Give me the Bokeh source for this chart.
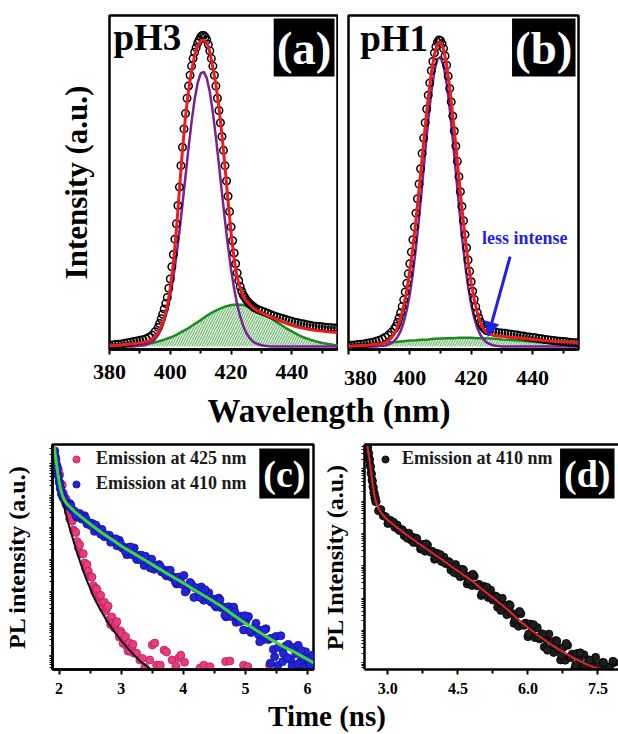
from bokeh.plotting import figure
from bokeh.layouts import column, row
from bokeh.models import (Range1d, FixedTicker, PrintfTickFormatter, Label, Arrow,
                          NormalHead, LinearAxis, Legend, LegendItem)
from bokeh.embed import file_html
from bokeh.resources import INLINE

# ---------------------------------------------------------------- data
wavelength_fit = [380, 381, 382, 383, 384, 385, 386, 387, 388, 389, 390, 391, 392, 393, 394, 395,
                  396, 397, 398, 399, 400, 401, 402, 403, 404, 405, 406, 407, 408, 409, 410, 411,
                  412, 413, 414, 415, 416, 417, 418, 419, 420, 421, 422, 423, 424, 425, 426, 427,
                  428, 429, 430, 431, 432, 433, 434, 435, 436, 437, 438, 439, 440, 441, 442, 443,
                  444, 445, 446, 447, 448, 449, 450, 451, 452, 453, 454, 455]
wavelength_green = [380, 382, 384, 386, 388, 390, 392, 394, 396, 398, 400, 402, 404, 406, 408, 410,
                    412, 414, 416, 418, 420, 422, 424, 426, 428, 430, 432, 434, 436, 438, 440, 442,
                    444, 446, 448, 450, 452, 454, 456]
wavelength_ticks = [380, 400, 420, 440]
wavelength_minor = [390, 410, 430, 450]

# pH3 (panel a)
pH3_fit = [0.002, 0.003, 0.003, 0.004, 0.005, 0.006, 0.007, 0.008, 0.009, 0.010, 0.011, 0.013,
           0.015, 0.018, 0.024, 0.033, 0.045, 0.065, 0.090, 0.130, 0.190, 0.270, 0.380, 0.510,
           0.640, 0.750, 0.835, 0.900, 0.950, 0.980, 0.997, 1.000, 0.990, 0.960, 0.910, 0.855,
           0.780, 0.690, 0.585, 0.475, 0.370, 0.285, 0.225, 0.190, 0.165, 0.148, 0.138, 0.128,
           0.120, 0.115, 0.110, 0.105, 0.100, 0.096, 0.092, 0.088, 0.084, 0.080, 0.076, 0.072,
           0.069, 0.066, 0.063, 0.061, 0.059, 0.057, 0.055, 0.054, 0.052, 0.051, 0.050, 0.049,
           0.048, 0.047, 0.046, 0.045]
pH3_peak1 = [0, 0, 0, 0, 0, 0, 0, 0, 0, 0.001, 0.002, 0.003, 0.005, 0.009, 0.015, 0.024,
             0.037, 0.057, 0.084, 0.120, 0.167, 0.225, 0.295, 0.375, 0.464, 0.556, 0.648, 0.733,
             0.806, 0.860, 0.891, 0.896, 0.875, 0.830, 0.764, 0.683, 0.593, 0.500, 0.410, 0.326,
             0.251, 0.188, 0.137, 0.097, 0.067, 0.044, 0.029, 0.018, 0.011, 0.007, 0.004, 0.002,
             0.001, 0, 0, 0, 0, 0, 0, 0, 0, 0, 0, 0, 0, 0, 0, 0, 0, 0, 0, 0, 0, 0, 0, 0]
pH3_peak2 = [0.000, 0.001, 0.001, 0.002, 0.003, 0.005, 0.008, 0.011, 0.016, 0.022, 0.029, 0.038,
             0.049, 0.060, 0.073, 0.086, 0.100, 0.112, 0.122, 0.130, 0.135, 0.137, 0.135, 0.130,
             0.122, 0.112, 0.100, 0.086, 0.073, 0.060, 0.049, 0.038, 0.029, 0.022, 0.016, 0.011,
             0.008, 0.005, 0.003]
pH3_data_nm = [380, 381, 382, 383, 384, 385, 386, 387, 388, 389, 390, 391, 392, 393, 394, 395,
               396, 396.5, 397, 397.5, 398, 398.5, 399, 399.5, 400, 400.5, 401, 401.5, 402, 402.5,
               403, 403.5, 404, 404.5, 405, 405.5, 406, 406.5, 407, 407.5, 408, 408.5, 409, 409.5,
               410, 410.5, 411, 411.5, 412, 412.5, 413, 413.5, 414, 414.5, 415, 415.5, 416, 416.5,
               417, 417.5, 418, 418.5, 419, 419.5, 420, 420.5, 421, 421.5, 422, 422.5, 423, 423.5,
               424, 424.5, 425, 425.5, 426, 426.5, 427, 427.5,
               428, 429, 430, 431, 432, 433, 434, 435, 436, 437, 438, 439, 440, 441, 442, 443,
               444, 445, 446, 447, 448, 449, 450, 451, 452, 453, 454, 455]
pH3_data = [0.004, 0.005, 0.006, 0.007, 0.008, 0.010, 0.012, 0.014, 0.016, 0.018, 0.020, 0.022,
            0.025, 0.030, 0.037, 0.048,
            0.062, 0.075, 0.090, 0.105, 0.122, 0.140, 0.160, 0.190, 0.220, 0.260, 0.300, 0.350,
            0.400, 0.460, 0.520, 0.590, 0.650, 0.710, 0.760, 0.810, 0.850, 0.885, 0.915, 0.940,
            0.960, 0.975, 0.990, 1.000, 1.010, 1.015, 1.015, 1.010, 1.000, 0.985, 0.965, 0.940,
            0.915, 0.885, 0.850, 0.810, 0.770, 0.730, 0.685, 0.640, 0.590, 0.540, 0.490, 0.440,
            0.390, 0.345, 0.305, 0.270, 0.240, 0.215, 0.195, 0.180, 0.168, 0.160, 0.152, 0.146,
            0.140, 0.136, 0.132, 0.128,
            0.125, 0.120, 0.116, 0.112, 0.108, 0.104, 0.100, 0.097, 0.094, 0.091, 0.088, 0.085,
            0.082, 0.079, 0.077, 0.075, 0.073, 0.071, 0.069, 0.067, 0.066, 0.065, 0.064, 0.063,
            0.062, 0.061, 0.060, 0.060]

# pH1 (panel b)
pH1_fit = [0.001, 0.001, 0.002, 0.002, 0.003, 0.003, 0.004, 0.005, 0.006, 0.007, 0.008, 0.010,
           0.013, 0.019, 0.028, 0.042, 0.063, 0.092, 0.132, 0.183, 0.247, 0.323, 0.412, 0.510,
           0.613, 0.716, 0.811, 0.892, 0.952, 0.987, 0.993, 0.969, 0.919, 0.845, 0.755, 0.655,
           0.551, 0.450, 0.358, 0.277, 0.208, 0.153, 0.110, 0.079, 0.058, 0.046, 0.040, 0.037,
           0.035, 0.034, 0.033, 0.032, 0.031, 0.030, 0.029, 0.028, 0.027, 0.026, 0.025, 0.024,
           0.023, 0.022, 0.021, 0.020, 0.019, 0.018, 0.018, 0.017, 0.016, 0.016, 0.015, 0.015,
           0.014, 0.014, 0.013, 0.013]
pH1_peak1 = [0, 0, 0, 0, 0, 0, 0, 0, 0, 0, 0.001, 0.002, 0.003, 0.006, 0.011, 0.019, 0.031,
             0.050, 0.079, 0.118, 0.171, 0.239, 0.322, 0.418, 0.524, 0.633, 0.738, 0.829, 0.898,
             0.938, 0.944, 0.917, 0.859, 0.776, 0.676, 0.568, 0.460, 0.359, 0.270, 0.196, 0.137,
             0.093, 0.060, 0.038, 0.023, 0.013, 0.008, 0.004, 0.002, 0.001,
             0, 0, 0, 0, 0, 0, 0, 0, 0, 0, 0, 0, 0, 0, 0, 0, 0, 0, 0, 0, 0, 0, 0, 0, 0, 0]
pH1_peak2 = [0.005, 0.006, 0.007, 0.008, 0.009, 0.011, 0.012, 0.014, 0.015, 0.017, 0.019, 0.020,
             0.022, 0.023, 0.025, 0.026, 0.027, 0.027, 0.028, 0.028, 0.028, 0.027, 0.027, 0.026,
             0.025, 0.023, 0.022, 0.020, 0.019, 0.017, 0.015, 0.014, 0.012, 0.011, 0.009, 0.008,
             0.007, 0.006, 0.005]
pH1_data_nm = [380, 381, 382, 383, 384, 385, 386, 387, 388, 389, 390, 391, 392, 393, 394, 395,
               395.5, 396, 396.5, 397, 397.5, 398, 398.5, 399, 399.5, 400, 400.5, 401, 401.5,
               402, 402.5, 403, 403.5, 404, 404.5, 405, 405.5, 406, 406.5, 407, 407.5, 408,
               408.5, 409, 409.5, 410, 410.5, 411, 411.5, 412, 412.5, 413, 413.5, 414, 414.5,
               415, 415.5, 416, 416.5, 417, 417.5, 418, 418.5, 419, 419.5, 420, 420.5, 421,
               421.5, 422, 422.5, 423, 423.5, 424, 424.5, 425,
               426, 427, 428, 429, 430, 431, 432, 433, 434, 435, 436, 437, 438, 439, 440, 441,
               442, 443, 444, 445, 446, 447, 448, 449, 450, 451, 452, 453, 454, 455]
pH1_data = [0.003, 0.004, 0.005, 0.006, 0.007, 0.008, 0.010, 0.012, 0.014, 0.017, 0.020, 0.024,
            0.030, 0.037, 0.046, 0.058,
            0.066, 0.078, 0.093, 0.110, 0.130, 0.152, 0.178, 0.206, 0.237, 0.270, 0.308, 0.348,
            0.390, 0.435, 0.482, 0.530, 0.580, 0.630, 0.680, 0.730, 0.775, 0.820, 0.860, 0.900,
            0.930, 0.958, 0.978, 0.993, 1.000, 0.998, 0.988, 0.972, 0.948, 0.918, 0.882, 0.842,
            0.798, 0.752, 0.703, 0.654, 0.604, 0.554, 0.505, 0.457, 0.410, 0.365, 0.322, 0.282,
            0.245, 0.211, 0.180, 0.153, 0.130, 0.110, 0.094, 0.080, 0.070, 0.062, 0.056, 0.052,
            0.050, 0.048, 0.046, 0.045, 0.044, 0.043, 0.041, 0.040, 0.038, 0.037, 0.035, 0.034,
            0.032, 0.031, 0.029, 0.028, 0.026, 0.025, 0.023, 0.022, 0.020, 0.019, 0.018, 0.017,
            0.016, 0.015, 0.014, 0.013, 0.012, 0.012]

# panel c : decay (log10 of counts) vs time (ns)
t_425 = [1.93, 1.95, 1.97, 1.99, 2.01, 2.03, 2.05, 2.07, 2.09, 2.11, 2.13, 2.15, 2.17, 2.19, 2.21,
         2.23, 2.25, 2.27, 2.29, 2.31, 2.33, 2.35, 2.37, 2.39, 2.41, 2.43, 2.45, 2.47, 2.49, 2.51,
         2.53, 2.55, 2.57, 2.59, 2.61, 2.63, 2.65, 2.67, 2.69, 2.71, 2.73, 2.75, 2.77, 2.79, 2.81,
         2.83, 2.85, 2.87, 2.89, 2.91, 2.93, 2.95, 2.97, 2.99, 3.01, 3.03, 3.05, 3.07, 3.09, 3.11,
         3.13, 3.15, 3.17, 3.19, 3.21,
         3.25, 3.30, 3.34, 3.38, 3.46, 3.50, 3.54, 3.57, 3.63, 3.69, 3.73, 3.82, 3.88, 3.93, 3.96,
         4.02, 4.27, 4.33, 4.43, 4.68, 4.75, 4.97, 5.04, 5.39]
log_425 = [7.36, 7.03, 6.92, 6.81, 6.65, 6.37, 6.33, 6.07, 5.83, 5.91, 5.80, 5.48, 5.27, 5.30, 5.20,
           4.92, 4.88, 4.84, 4.56, 4.37, 4.46, 4.17, 4.18, 4.18, 3.89, 3.71, 3.84, 3.63, 3.47, 3.45,
           3.45, 3.18, 3.00, 3.10, 3.06, 2.80, 2.85, 2.88, 2.63, 2.48, 2.66, 2.38, 2.47, 2.54, 2.11,
           1.96, 2.20, 2.01, 1.86, 1.98, 2.05, 1.76, 1.57, 1.76, 1.68, 1.37, 1.49, 1.58, 1.29, 1.13,
           1.39, 1.12, 1.24, 1.34, 1.06,
           1.06, 0.85, 0.90, 0.62, 0.85, 1.32, 1.38, 0.69, 0.69, 1.16, 1.10, 0.85, 0.66, 0.92, 1.00,
           0.78, 0.60, 0.69, 0.64, 0.80, 0.82, 0.69, 0.64, 0.69]
t_410 = [1.93, 1.94, 1.95, 1.96, 1.97, 1.98, 1.99, 2.00, 2.01, 2.02, 2.03, 2.04, 2.05, 2.06, 2.07,
         2.09, 2.13, 2.17, 2.21, 2.25, 2.29, 2.33, 2.37, 2.41, 2.45, 2.49, 2.53, 2.57, 2.61, 2.65,
         2.69, 2.73, 2.77, 2.81, 2.85, 2.89, 2.93, 2.97, 3.01, 3.05, 3.09, 3.13, 3.17, 3.21, 3.25,
         3.29, 3.33, 3.37, 3.41, 3.45, 3.49, 3.53, 3.57, 3.61, 3.65, 3.69, 3.73, 3.77, 3.81, 3.85,
         3.89, 3.93, 3.97, 4.01, 4.05, 4.09, 4.13, 4.17, 4.21, 4.25, 4.29, 4.33, 4.37, 4.41, 4.45,
         4.49, 4.53, 4.57, 4.61, 4.65, 4.69, 4.73, 4.77, 4.81, 4.85, 4.89, 4.93, 4.97, 5.01, 5.05,
         5.09, 5.13, 5.17, 5.21, 5.25, 5.29, 5.33, 5.37, 5.41, 5.45, 5.49, 5.53, 5.57, 5.61, 5.65,
         5.69, 5.73, 5.77, 5.81, 5.85, 5.89, 5.93, 5.97, 6.01, 6.05, 6.09,
         2.11, 2.19, 2.27, 2.35, 2.43, 2.51, 2.59, 2.67, 2.75, 2.83, 2.91, 2.99, 3.07, 3.15, 3.23,
         3.31, 3.39, 3.47, 3.55, 3.63, 3.71, 3.79, 3.87, 3.95, 4.03, 4.11, 4.19, 4.27, 4.35, 4.43,
         4.51, 4.59, 4.67, 4.75, 4.83, 4.91, 4.99, 5.07, 5.15, 5.23, 5.31,
         5.40, 5.47, 5.52, 5.60, 5.68, 5.75, 5.84, 5.90, 5.95, 6.04]
log_410 = [7.40, 7.22, 7.13, 6.95, 6.86, 6.66, 6.60, 6.43, 6.38, 6.22, 6.20, 6.05, 6.06, 5.95, 5.96,
           5.88, 5.67, 5.75, 5.56, 5.51, 5.32, 5.44, 5.26, 5.37, 5.11,
           5.15, 5.13, 4.88, 5.00, 4.88, 4.94, 4.71, 4.73, 4.76, 4.59,
           4.62, 4.43, 4.60, 4.37, 4.38, 4.15, 4.38, 4.15, 4.36, 4.00,
           4.13, 4.13, 3.81, 4.02, 3.88, 4.01, 3.69, 3.76, 3.84, 3.61,
           3.67, 3.48, 3.66, 3.44, 3.45, 3.23, 3.45, 3.22, 3.50, 3.03,
           3.20, 3.23, 2.81, 3.11, 2.94, 3.14, 2.72, 2.82, 2.96, 2.66,
           2.76, 2.51, 2.79, 2.49, 2.51, 2.20, 2.52, 2.21, 2.51, 2.03,
           2.20, 2.22, 1.79, 2.08, 2.21, 1.71, 1.84, 2.00, 1.65, 1.78,
           1.49, 1.83, 1.49, 1.53, 1.18, 1.59, 1.24, 1.61, 1.06, 1.29,
           1.34, 0.86, 1.24, 1.05, 1.31, 0.81, 0.95, 1.11, 0.77, 0.90,
           1.01,
           5.73, 5.70, 5.37, 5.36, 5.28, 5.06, 5.08, 4.79, 4.77, 4.54,
           4.65, 4.49, 4.25, 4.39, 4.12, 3.99, 4.10, 3.73, 3.82, 3.78,
           3.54, 3.66, 3.30, 3.33, 2.98, 3.28, 3.11, 2.81, 3.05, 2.71,
           2.56, 2.74, 2.25, 2.39, 2.36, 2.05, 2.24, 1.77, 1.85, 1.42,
           1.80,
           0.75, 0.95, 0.68, 0.80, 0.92, 0.66, 0.72, 1.15, 0.62, 0.70]
t_fit_425 = [1.92, 1.95, 2.0, 2.05, 2.1, 2.15, 2.2, 2.25, 2.3, 2.35, 2.4, 2.45, 2.5, 2.55, 2.6, 2.65,
             2.7, 2.8, 2.9, 3.0, 3.1, 3.2, 3.3, 3.4, 3.5]
log_fit_425 = [7.40, 7.05, 6.55, 6.00, 5.50, 5.12, 4.79, 4.47, 4.15, 3.86, 3.58, 3.33, 3.09, 2.86,
               2.66, 2.48, 2.31, 1.98, 1.71, 1.46, 1.23, 1.02, 0.82, 0.67, 0.53]
t_fit_410 = [1.92, 1.95, 1.98, 2.0, 2.02, 2.05, 2.08, 2.11, 2.15, 2.2, 2.25, 2.3, 2.4, 2.5, 2.6, 2.7,
             2.8, 2.9, 3.0, 3.2, 3.4, 3.6, 3.8, 4.0, 4.2, 4.4, 4.6, 4.8, 5.0, 5.2, 5.4, 5.6, 5.8,
             6.0, 6.1]
log_fit_410 = [7.52, 7.10, 6.70, 6.45, 6.25, 6.02, 5.87, 5.78, 5.69, 5.60, 5.50, 5.42, 5.26, 5.11,
               4.96, 4.82, 4.69, 4.56, 4.42, 4.19, 3.96, 3.72, 3.49, 3.26, 3.02, 2.79, 2.55, 2.27,
               2.00, 1.75, 1.51, 1.28, 1.09, 0.87, 0.76]

# panel d
t_d = [2.56, 2.57, 2.58, 2.59, 2.60, 2.61, 2.62, 2.63, 2.64, 2.65, 2.66, 2.67, 2.68, 2.69, 2.70,
       2.71, 2.72, 2.73, 2.74,
       2.75, 2.80, 2.85, 2.90, 2.95, 3.00, 3.05, 3.10, 3.15, 3.20, 3.25, 3.30, 3.35, 3.40, 3.45,
       3.50, 3.55, 3.60, 3.65, 3.70, 3.75, 3.80, 3.85, 3.90, 3.95, 4.00, 4.05, 4.10, 4.15, 4.20,
       4.25, 4.30, 4.35, 4.40, 4.45, 4.50, 4.55, 4.60, 4.65, 4.70, 4.75, 4.80, 4.85, 4.90, 4.95,
       5.00, 5.05, 5.10, 5.15, 5.20, 5.25, 5.30, 5.35, 5.40, 5.45, 5.50, 5.55, 5.60, 5.65, 5.70,
       5.75, 5.80, 5.85, 5.90, 5.95, 6.00, 6.05, 6.10, 6.15, 6.20, 6.25, 6.30, 6.35, 6.40, 6.45,
       6.50, 6.55, 6.60, 6.65, 6.70, 6.75, 6.80, 6.85, 6.90, 6.95, 7.00, 7.05, 7.10, 7.15, 7.20,
       7.25, 7.30, 7.35, 7.40, 7.45, 7.50, 7.55, 7.60, 7.65, 7.70, 7.75, 7.80, 7.85, 7.90,
       3.02, 3.12, 3.22, 3.32, 3.42, 3.52, 3.62, 3.72, 3.82, 3.92, 4.02, 4.12, 4.22, 4.32, 4.42,
       4.52, 4.62, 4.72, 4.82, 4.92, 5.02, 5.12, 5.22, 5.32, 5.42, 5.52, 5.62, 5.72, 5.82, 5.92,
       6.02, 6.12, 6.22, 6.32, 6.42, 6.52, 6.62, 6.72, 6.82, 6.92, 7.02, 7.12, 7.22, 7.32, 7.42,
       7.52, 7.62, 7.72, 7.82]
log_d = [7.70, 7.66, 7.50, 7.47, 7.31, 7.27, 7.10, 7.06, 6.88, 6.83, 6.65, 6.62, 6.45, 6.41, 6.26,
         6.24, 6.10, 6.11, 5.98,
         5.99, 5.70, 5.74, 5.55, 5.52, 5.31, 5.41, 5.30, 5.19, 5.26,
         5.09, 5.12, 4.93, 4.98, 5.01, 4.80, 4.72, 4.86, 4.70, 4.52,
         4.66, 4.45, 4.64, 4.44, 4.45, 4.20, 4.39, 4.27, 4.13, 4.27,
         4.06, 4.13, 3.87, 3.97, 4.04, 3.75, 3.66, 3.89, 3.69, 3.44,
         3.68, 3.39, 3.68, 3.40, 3.43, 3.08, 3.37, 3.20, 3.02, 3.25,
         2.94, 3.07, 2.72, 2.88, 3.00, 2.62, 2.49, 2.80, 2.53, 2.22,
         2.51, 2.13, 2.52, 2.18, 2.23, 1.81, 2.20, 2.01, 1.78, 2.09,
         1.74, 1.90, 1.49, 1.72, 1.89, 1.43, 1.32, 1.69, 1.43, 1.09,
         1.47, 1.08, 1.54, 1.18, 1.27, 0.81, 1.29, 1.09, 0.87, 1.25,
         0.86, 1.09, 0.64, 0.93, 1.17, 0.70, 0.62, 1.01, 0.78, 0.47,
         0.88, 0.52, 1.01, 0.68,
         5.33, 5.35, 5.14, 5.09, 4.85, 4.89, 4.84, 4.57, 4.68, 4.42,
         4.24, 4.35, 4.10, 4.10, 3.79, 3.89, 3.87, 3.53, 3.74, 3.38,
         3.15, 3.34, 3.01, 3.05, 2.62, 2.78, 2.77, 2.33, 2.59, 2.16,
         1.90, 2.18, 1.79, 1.88, 1.39, 1.64, 1.67, 1.23, 1.60, 1.16,
         0.93, 1.31, 0.92, 1.08, 0.57, 0.92, 1.01, 0.63, 1.05]
t_fit_d = [2.56, 2.58, 2.60, 2.62, 2.64, 2.66, 2.68, 2.70, 2.72, 2.75, 2.80, 2.85, 2.90, 3.00, 3.10,
           3.20, 3.40, 3.60, 3.80, 4.00, 4.20, 4.40, 4.60, 4.80, 5.00, 5.20, 5.40, 5.60, 5.80,
           6.00, 6.20, 6.40, 6.60, 6.80, 7.00, 7.20, 7.40, 7.60, 7.80, 8.00]
log_fit_d = [7.72, 7.53, 7.35, 7.13, 6.91, 6.68, 6.48, 6.29, 6.13, 5.95, 5.77, 5.65, 5.56, 5.41,
             5.29, 5.18, 4.96, 4.75, 4.55, 4.35, 4.15, 3.94, 3.74, 3.54, 3.30, 3.07, 2.84, 2.60,
             2.33, 2.09, 1.87, 1.66, 1.47, 1.30, 1.13, 0.99, 0.87, 0.79, 0.74, 0.69]

for a, b in [(wavelength_fit, pH3_fit), (wavelength_fit, pH3_peak1), (wavelength_green, pH3_peak2),
             (pH3_data_nm, pH3_data), (wavelength_fit, pH1_fit), (wavelength_fit, pH1_peak1),
             (wavelength_green, pH1_peak2), (pH1_data_nm, pH1_data), (t_425, log_425),
             (t_410, log_410), (t_fit_425, log_fit_425), (t_fit_410, log_fit_410),
             (t_d, log_d), (t_fit_d, log_fit_d)]:
    assert len(a) == len(b), (len(a), len(b))


def counts(arr):
    return [10 ** v for v in arr]

# ---------------------------------------------------------------- style
FONT = "Liberation Serif"
RED = "#ee1c1c"
PURPLE = "#7b1f94"
GREEN = "#1e8a1e"
BLUE_TXT = "#1f1fe8"
NBSP = "\u00a0"


def base_fig(**kw):
    p = figure(output_backend="svg", toolbar_location=None, **kw)
    p.xgrid.visible = False
    p.ygrid.visible = False
    p.background_fill_color = "white"
    p.border_fill_color = "white"
    p.outline_line_color = "black"
    p.outline_line_width = 2.5
    return p


def style_xaxis(ax, size, standoff):
    ax.axis_line_width = 2.5
    ax.axis_line_color = "black"
    ax.major_tick_out = 5
    ax.major_tick_in = 0
    ax.minor_tick_out = 4
    ax.minor_tick_in = 0
    ax.major_tick_line_width = 2
    ax.minor_tick_line_width = 2
    ax.major_label_text_font = FONT
    ax.major_label_text_font_style = "bold"
    ax.major_label_text_font_size = size
    ax.major_label_text_color = "black"
    ax.major_label_standoff = standoff


def tag(p, text, size, pad):
    p.add_layout(Label(x=p.x_range.end, y=p.y_range.end, text=text, text_align="right",
                       text_baseline="top", x_offset=-pad, y_offset=-pad, text_color="white",
                       text_font=FONT, text_font_style="bold", text_font_size=f"{size}px",
                       background_fill_color="black", padding=pad))


def spectrum_panel(width, left, right, fit, peak1, peak2, data_x, data_y):
    p = base_fig(width=width, height=392, x_range=Range1d(380, 455), y_range=Range1d(-0.01, 1.08),
                 min_border_left=left, min_border_right=right, min_border_top=15,
                 min_border_bottom=42)
    p.xaxis.ticker = FixedTicker(ticks=wavelength_ticks, minor_ticks=wavelength_minor)
    style_xaxis(p.xaxis[0], "22px", 10)
    p.varea(x=wavelength_green, y1=0, y2=peak2, fill_color="#bfe3bf", fill_alpha=0.45,
            hatch_pattern="/", hatch_color=GREEN, hatch_alpha=0.75, hatch_scale=5,
            hatch_weight=0.9)
    p.line(wavelength_green, peak2, line_color=GREEN, line_width=2.5)
    p.line(wavelength_fit, peak1, line_color=PURPLE, line_width=2.5)
    p.scatter(data_x, data_y, marker="circle", size=7.5, fill_color=None, line_color="black",
              line_width=1.5)
    p.line(wavelength_fit, fit, line_color=RED, line_width=3)
    return p

# ---------------------------------------------------------------- panel a
pa = spectrum_panel(338, 109, 1, pH3_fit, pH3_peak1, pH3_peak2, pH3_data_nm, pH3_data)
ya = pa.yaxis[0]
ya.ticker = FixedTicker(ticks=[])
ya.axis_label = "Intensity (a.u.)"
ya.axis_label_text_font = FONT
ya.axis_label_text_font_style = "bold"
ya.axis_label_text_font_size = "31px"
ya.axis_label_text_color = "black"
ya.axis_label_standoff = 16
ya.major_tick_out = 0
ya.major_tick_in = 0
ya.minor_tick_out = 0
ya.minor_tick_in = 0
ya.major_label_standoff = 0
ya.axis_line_color = None
pa.add_layout(Label(x=381.3, y=1.076, text="pH3", text_baseline="top", text_font=FONT,
                    text_font_style="bold", text_font_size="37px", text_color="black"))
tag(pa, "(a)", 47, 3)

# ---------------------------------------------------------------- panel b
pb = spectrum_panel(264, 10, 24, pH1_fit, pH1_peak1, pH1_peak2, pH1_data_nm, pH1_data)
pb.yaxis.visible = False
# the first label sits on the seam between the two canvases: pad it so it stays readable
pb.xaxis.major_label_overrides = {380: NBSP + "380"}
pb.add_layout(Label(x=383.8, y=1.073, text="pH1", text_baseline="top", text_font=FONT,
                    text_font_style="bold", text_font_size="37px", text_color="black"))
tag(pb, "(b)", 47, 3)
pb.add_layout(Label(x=423.5, y=0.388, text="less intense", text_baseline="top",
                    text_font=FONT, text_font_style="bold", text_font_size="18px",
                    text_color=BLUE_TXT))
pb.add_layout(Arrow(end=NormalHead(size=14, fill_color=BLUE_TXT, line_color=BLUE_TXT,
                                   line_width=1),
                    x_start=432.7, y_start=0.293, x_end=425.5, y_end=0.033,
                    line_color=BLUE_TXT, line_width=3))

# ---------------------------------------------------------------- shared axis titles
def text_strip(width, height, x, y, text, size):
    p = figure(width=width, height=height, x_range=Range1d(0, width), y_range=Range1d(0, height),
               x_axis_location=None, y_axis_location=None, min_border_left=0, min_border_right=0,
               min_border_top=0, min_border_bottom=0, output_backend="svg", toolbar_location=None)
    p.outline_line_color = None
    p.grid.visible = False
    p.add_layout(Label(x=x, y=y, text=text, text_align="center", text_baseline="top",
                       text_font=FONT, text_font_style="bold", text_font_size=size,
                       text_color="black"))
    return p

strip_wl = text_strip(602, 42, 328.5, 41.5, "Wavelength (nm)", "33px")

# ---------------------------------------------------------------- decay panels
log_minor = [m * 10 ** k for k in range(0, 8) for m in range(1, 10)]


def style_logy(ax, label, standoff):
    ax.ticker = FixedTicker(ticks=[], minor_ticks=log_minor)
    ax.axis_line_width = 2.5
    ax.axis_line_color = "black"
    ax.major_tick_out = 0
    ax.major_tick_in = 0
    ax.minor_tick_out = 3
    ax.minor_tick_in = 0
    ax.minor_tick_line_width = 1.2
    ax.major_label_standoff = 0
    ax.axis_label = label
    ax.axis_label_text_font = FONT
    ax.axis_label_text_font_style = "bold"
    ax.axis_label_text_font_size = "24px"
    ax.axis_label_text_color = "black"
    ax.axis_label_standoff = standoff


def legend_for(items, glyph_w):
    return Legend(items=items, location="top_left", margin=4, padding=4, glyph_width=glyph_w,
                  glyph_height=18, label_height=18, label_standoff=0, spacing=4,
                  background_fill_alpha=0, border_line_color=None, label_text_font=FONT,
                  label_text_font_style="bold", label_text_font_size="18px",
                  label_text_color="#1a1a1a")


pc = base_fig(width=318, height=264, x_range=Range1d(1.894, 6.096),
              y_range=Range1d(10 ** 0.553, 10 ** 7.60), y_axis_type="log",
              min_border_left=52, min_border_right=5, min_border_top=10, min_border_bottom=29)
pc.xaxis.ticker = FixedTicker(ticks=[2, 3, 4, 5, 6], minor_ticks=[2.5, 3.5, 4.5, 5.5])
style_xaxis(pc.xaxis[0], "16px", 8)
style_logy(pc.yaxis[0], "PL intensity (a.u.)", 20)
r_pink = pc.scatter(t_425, counts(log_425), marker="circle", size=8, fill_color="#ea3a80",
                    line_color="#b81e5c", line_width=0.8)
r_blue = pc.scatter(t_410, counts(log_410), marker="circle", size=8, fill_color="#2424dc",
                    line_color="#10109a", line_width=0.8)
pc.line(t_fit_425, counts(log_fit_425), line_color="#111111", line_width=2)
pc.line(t_fit_410, counts(log_fit_410), line_color="#3ad83a", line_width=3)
pc.add_layout(legend_for([LegendItem(label="Emission at 425 nm", renderers=[r_pink]),
                          LegendItem(label="Emission at 410 nm", renderers=[r_blue])], 40))
tag(pc, "(c)", 38, 4)

pd_ = base_fig(width=300, height=264, x_range=Range1d(2.5, 7.94),
               y_range=Range1d(10 ** 0.794, 10 ** 7.75), y_axis_type="log",
               min_border_left=45, min_border_right=0, min_border_top=10, min_border_bottom=29)
pd_.outline_line_color = None
pd_.xaxis.ticker = FixedTicker(ticks=[3.0, 4.5, 6.0, 7.5], minor_ticks=[3.75, 5.25, 6.75])
pd_.xaxis.formatter = PrintfTickFormatter(format="%.1f")
style_xaxis(pd_.xaxis[0], "16px", 8)
style_logy(pd_.yaxis[0], "PL Intensity (a.u.)", 14)
top_axis = LinearAxis(ticker=FixedTicker(ticks=[]), major_tick_out=0, major_tick_in=0,
                      minor_tick_out=0, minor_tick_in=0, major_label_standoff=0,
                      axis_line_width=2.5, axis_line_color="black")
pd_.add_layout(top_axis, "above")
r_black = pd_.scatter(t_d, counts(log_d), marker="circle", size=8, fill_color="#1e1e1e",
                      line_color="#000000", line_width=0.8)
pd_.line(t_fit_d, counts(log_fit_d), line_color="#e3232b", line_width=2)
pd_.add_layout(legend_for([LegendItem(label="Emission at 410 nm", renderers=[r_black])], 34))
tag(pd_, "(d)", 38, 4)

strip_time = text_strip(618, 35, 326.5, 34, "Time (ns)", "29px")

layout = column(row(pa, pb), strip_wl, row(pc, pd_), strip_time)

open("out.html", "w").write(file_html(layout, INLINE))
